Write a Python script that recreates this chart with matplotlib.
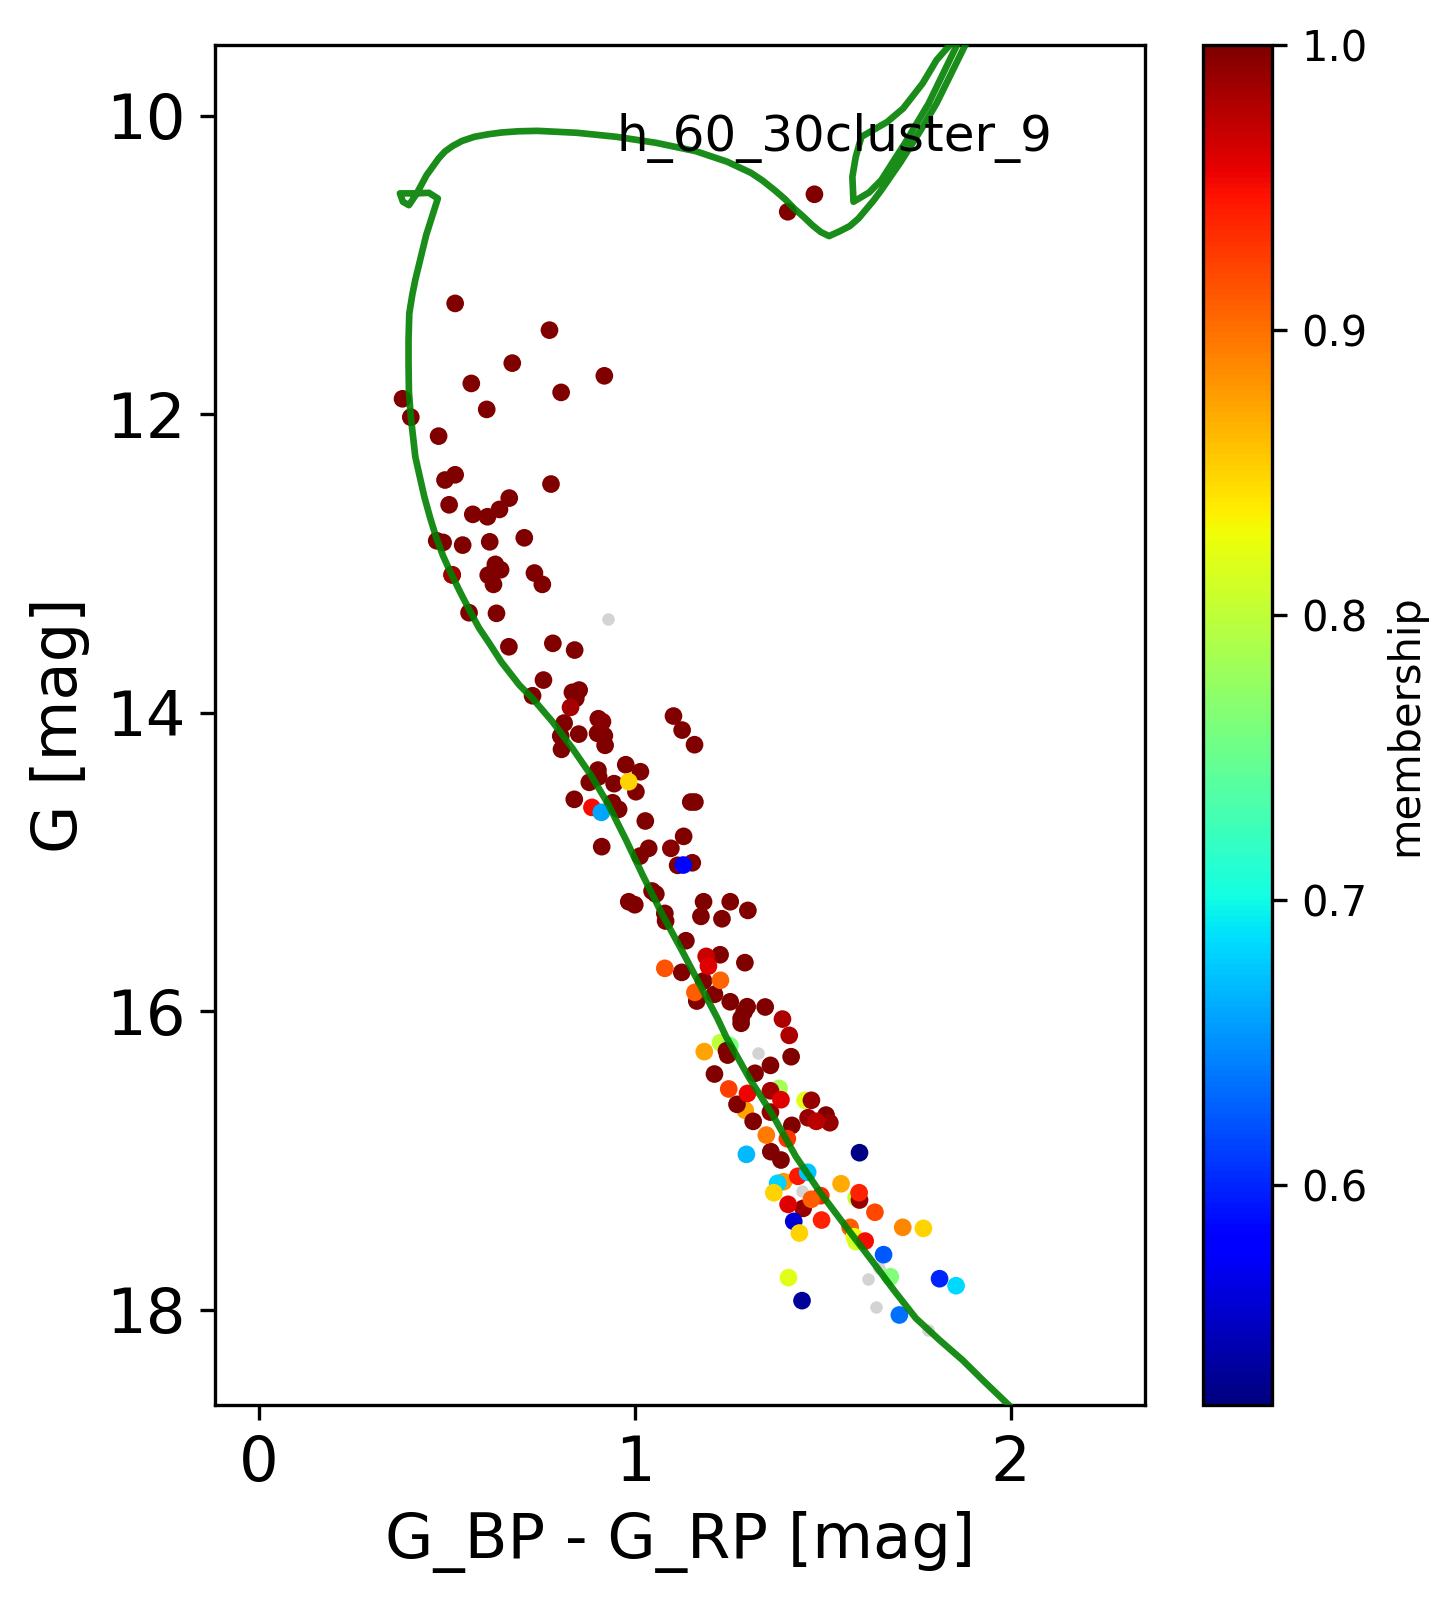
import matplotlib
matplotlib.use("Agg")
import matplotlib.pyplot as plt

# ---------
# > Data <
# ---------
color_index = [
    1.478, 1.407, .522, .773, .674, .919, .565, .804, .382, .606, .404, .478,
    .522, .495, .777, .666, .640, .506, .569, .608, .706, .473, .490, .542,
    .614, .629, .643, .610, .624, .733, .754, .514, .559, .632, .665, .782,
    .840, .757, .728, .834, .852, .843, .812, .903, 1.103, 1.126, 1.159, .803,
    .851, .901, .919, .805, .921, .976, .902, 1.015, .904, .879, .945, 1.003,
    .839, .941, .957, 1.149, 1.160, 1.028, 1.130, 1.037, .912, 1.014, 1.114, 1.153,
    1.046, 1.056, 1.000, .984, 1.183, 1.254, 1.080, 1.301, 1.176, 1.232, 1.082, 1.136,
    1.227, 1.293, 1.125, 1.183, 1.212, 1.165, 1.254, 1.347, 1.299, 1.291, 1.283, 1.283,
    1.416, 1.244, 1.247, 1.212, 1.361, 1.320, 1.272, 1.315, 1.509, 1.418, 1.362, 1.389,
    .829, .914, 1.096, .514, 1.393, 1.411, 1.361, 1.361, 1.470, 1.461, 1.519, 1.598,
    1.448, 1.483, 1.190, 1.196,
    .984, .886, .911, 1.129, 1.080, 1.228, 1.160,
    1.185, 1.250, 1.300, 1.389, 1.350, 1.406, 1.297,
    1.598, 1.396, 1.434, 1.460, 1.380, 1.549, 1.597, 1.370, 1.495, 1.470, 1.408,
    1.639, 1.423, 1.497, 1.573, 1.713, 1.768, 1.438, 1.584, 1.589, 1.613, 1.662, 1.680,
    1.811, 1.855, 1.409, 1.445, 1.704,
]
g_mag = [
    10.527, 10.644, 11.258, 11.437, 11.658, 11.743, 11.794, 11.854, 11.897, 11.968, 12.020, 12.147,
    12.406, 12.441, 12.468, 12.562, 12.638, 12.607, 12.671, 12.687, 12.828, 12.848, 12.859, 12.877,
    12.855, 13.006, 13.042, 13.078, 13.140, 13.064, 13.140, 13.076, 13.330, 13.334, 13.558, 13.535,
    13.580, 13.781, 13.886, 13.863, 13.848, 13.904, 14.069, 14.040, 14.022, 14.116, 14.214, 14.156,
    14.143, 14.138, 14.154, 14.245, 14.218, 14.348, 14.384, 14.395, 14.429, 14.466, 14.475, 14.529,
    14.580, 14.603, 14.647, 14.598, 14.598, 14.725, 14.828, 14.908, 14.897, 14.960, 15.022, 15.005,
    15.194, 15.214, 15.286, 15.266, 15.266, 15.266, 15.344, 15.324, 15.364, 15.380, 15.395, 15.527,
    15.621, 15.674, 15.739, 15.797, 15.886, 15.931, 15.936, 15.971, 15.969, 16.003, 16.047, 16.080,
    16.304, 16.264, 16.293, 16.420, 16.362, 16.415, 16.623, 16.737, 16.695, 16.764, 16.940, 16.996,
    13.964, 14.060, 14.908, 13.076, 16.052, 16.161, 16.532, 16.675, 16.596, 16.713, 16.746, 17.264,
    17.320, 16.737, 15.632, 15.697,
    14.462, 14.634, 14.667, 15.020, 15.712, 15.792, 15.873,
    16.270, 16.520, 16.550, 16.592, 16.829, 16.853, 16.958,
    16.947, 17.141, 17.105, 17.078, 17.152, 17.155, 17.215, 17.215, 17.235, 17.259, 17.293,
    17.346, 17.407, 17.398, 17.447, 17.447, 17.454, 17.485, 17.510, 17.543, 17.539, 17.630, 17.778,
    17.791, 17.838, 17.784, 17.938, 18.034,
]
membership = [1.0] * 108 + [
    .985, .995, .995, .985, .98, .98, .985, .99, .99, .99, .99, .99,
    .99, .975, .97, .96,
    .85, .95, .66, .585, .915, .905, .91,
    .875, .925, .955, .96, .895, .93, .67,
    .525, .88, .945, .675, .68, .87, .94, .85, .935, .91, .96,
    .92, .56, .94, .91, .89, .85, .85, .83, .81, .95, .625, .765,
    .60, .685, .82, .535, .635,
]

# these sit behind the dark members in the picture
under_color = [1.228, 1.253, 1.384, 1.453, 1.294, 1.589]
under_g = [16.210, 16.230, 16.516, 16.596, 16.663, 17.249]
under_membership = [.80, .76, .785, .82, .875, .80]

# stars below the membership cut
gray_color = [.928, 1.329, 1.444, 1.649, 1.620, 1.643, 1.779]
gray_g = [13.374, 16.281, 17.206, 17.717, 17.795, 17.983, 18.134]

# isochrone, faint end first
iso_color = [
    1.995, 1.93, 1.872, 1.81, 1.748, 1.69, 1.633, 1.562, 1.495, 1.429, 1.367, 1.305, 1.243, 1.22, 1.176,
    1.127, 1.074, 1.021, .977, .928, .883, .834, .781, .728, .693, .645, .613, .585,
    .56, .535, .511, .49, .471, .455, .44, .428, .416, .41, .404, .399, .398, .398, .40, .408, .416, .445, .476, .452,
    .42, .399, .383, .375, .42, .446, .478, .495, .515, .54, .573, .61, .646, .69, .741, .846,
    .951, 1.056, 1.162, 1.246, 1.309, 1.34, 1.372, 1.40, 1.424, 1.45, 1.472, 1.495, 1.517, 1.545, 1.572, 1.595, 1.614, 1.635, 1.656,
    1.708, 1.761, 1.803, 1.877, 1.893, 1.865, 1.855, 1.782, 1.719, 1.656, 1.624, 1.582,
    1.579, 1.588, 1.603, 1.672, 1.714, 1.766, 1.803, 1.834, 1.855,
]
iso_g = [
    18.637, 18.48, 18.336, 18.2, 18.056, 17.87, 17.677, 17.443, 17.219, 16.974, 16.695, 16.449, 16.170, 16.047, 15.835,
    15.600, 15.355, 15.087, 14.853, 14.607, 14.417, 14.238, 14.060, 13.904, 13.815, 13.66, 13.535, 13.43,
    13.312, 13.19, 13.066, 12.95, 12.821, 12.69, 12.553, 12.42, 12.285, 12.15, 12.017, 11.85, 11.66, 11.5, 11.325, 11.2, 11.100, 10.800, 10.555, 10.517,
    10.521, 10.600, 10.577, 10.521, 10.521, 10.399, 10.287, 10.24, 10.204, 10.17, 10.142, 10.125, 10.113, 10.105, 10.102, 10.115,
    10.142, 10.182, 10.238, 10.309, 10.383, 10.435, 10.499, 10.56, 10.622, 10.68, 10.733, 10.78, 10.807, 10.775, 10.740, 10.69, 10.633, 10.57, 10.499,
    10.309, 10.097, 9.918, 9.539, 9.470, 9.470, 9.539, 9.918, 10.184, 10.432, 10.514, 10.577,
    10.410, 10.276, 10.142, 10.042, 9.952, 9.784, 9.628, 9.539, 9.470,
]

# ---------
# > Plot <
# ---------
FIG_W, FIG_H = 1453, 1602
fig = plt.figure(figsize=(FIG_W / 300, FIG_H / 300), dpi=300)
ax = fig.add_axes([215.0 / FIG_W, 1 - 1405 / FIG_H, 930.5 / FIG_W, 1360 / FIG_H])
cax = fig.add_axes([1203.0 / FIG_W, 1 - 1405 / FIG_H, 69 / FIG_W, 1360 / FIG_H])

ax.scatter(gray_color, gray_g, s=4, color="lightgray", zorder=1)
ax.scatter(under_color, under_g, c=under_membership, s=18, cmap="jet",
           vmin=0.523, vmax=1.0, linewidths=0, zorder=1.5)
points = ax.scatter(color_index, g_mag, c=membership, s=18, cmap="jet",
                    vmin=0.523, vmax=1.0, linewidths=0, zorder=2)
ax.plot(iso_color, iso_g, color="green", alpha=0.9, lw=1.6, zorder=3)

ax.text(0.952, 10.24, "h_60_30cluster_9", fontsize=12, zorder=4)

ax.set_xlim(-0.117, 2.359)
ax.set_ylim(18.637, 9.527)
ax.set_xticks([0, 1, 2])
ax.set_yticks([10, 12, 14, 16, 18])
ax.tick_params(labelsize=15)
ax.set_xlabel("G_BP - G_RP [mag]", fontsize=15)
ax.set_ylabel("G [mag]", fontsize=15)

cbar = fig.colorbar(points, cax=cax)
cbar.set_ticks([0.6, 0.7, 0.8, 0.9, 1.0])
cbar.ax.tick_params(labelsize=10)
cbar.set_label("membership", fontsize=10)

fig.savefig("out.png", dpi=300)
plt.close(fig)
